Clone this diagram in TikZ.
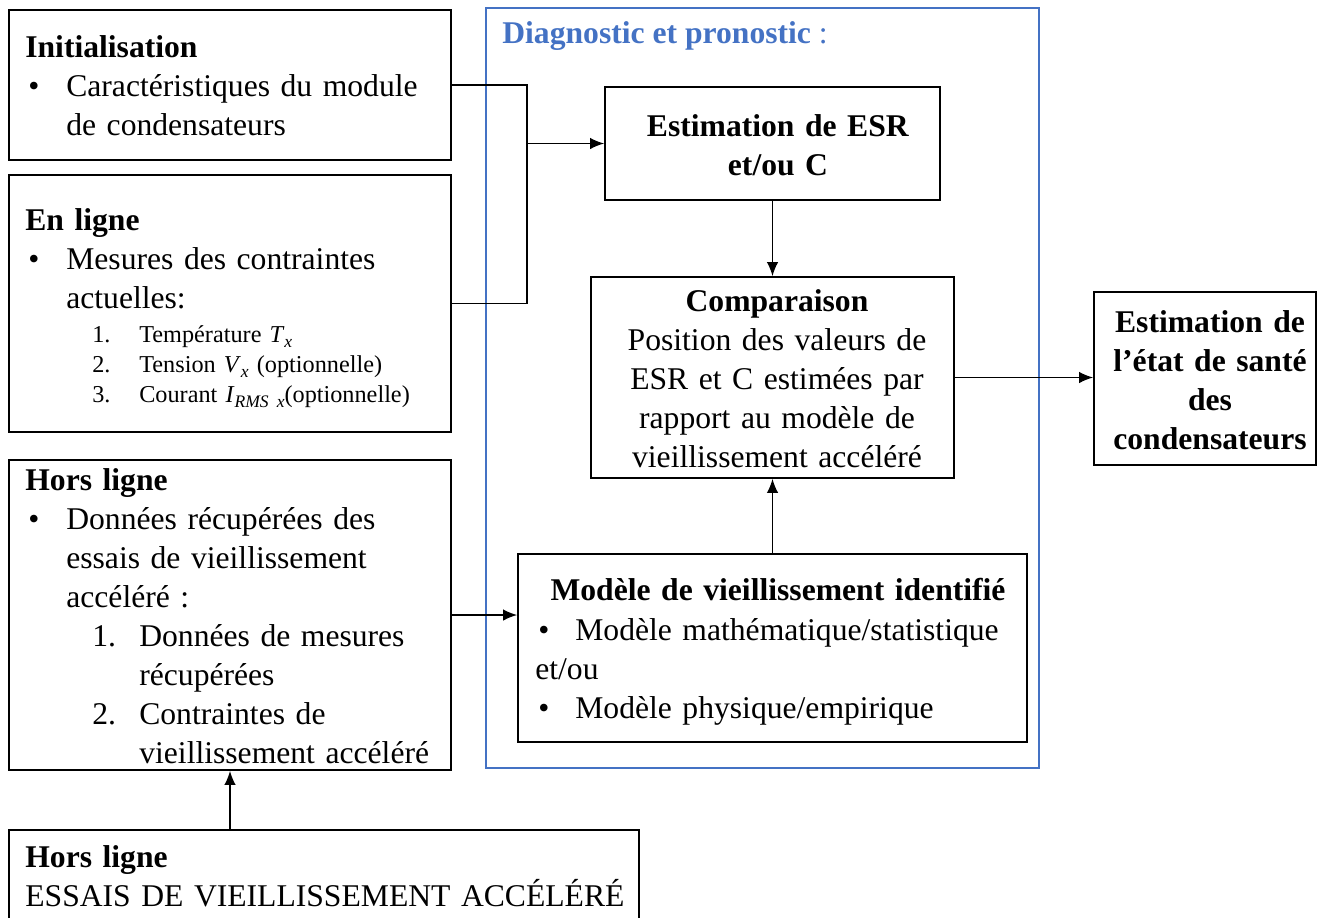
\documentclass[tikz,border=0pt]{standalone}
\usepackage{fontspec}
\setmainfont{Liberation Serif}
\usetikzlibrary{arrows.meta,fit}

\definecolor{diagblue}{HTML}{4472C4}
\newcommand{\bodyfont}{\fontsize{18pt}{22.2pt}\selectfont}
\newcommand{\smallfont}{\fontsize{13.8pt}{17.1pt}\selectfont}
\newcommand{\puce}[1][8.2mm]{\makebox[#1][l]{\hspace*{0.6mm}•}}
\newcommand{\numitem}[1]{\makebox[22.8mm][l]{\hspace*{13.4mm}#1}}
\newcommand{\varsub}[2]{\textit{#1}\raisebox{-0.5ex}{\fontsize{10pt}{10pt}\selectfont\textit{#2}}}

\begin{document}
\begin{tikzpicture}[x=0.02cm,y=-0.02cm,
  box/.style={draw,line width=0.9pt,inner sep=0pt},
  txt/.style={inner sep=0pt,font=\bodyfont,text width=9cm,align=left,anchor=base west},
  ctxt/.style={inner sep=0pt,font=\bodyfont,align=center,anchor=base},
  arrow/.style={line width=0.9pt,-{Latex[length=8pt,width=6.5pt]}}]
\useasboundingbox (0,0) rectangle (1324,917);

% cadre diagnostic
\node[draw=diagblue,line width=0.7pt,inner sep=0pt,fit={(486,8) (1039,768)}] (diag) {};
\node[anchor=base west,inner sep=0pt,font=\bodyfont,text=diagblue] (diagtitle) at (502,43) {\textbf{Diagnostic et pronostic} :};

% blocs
\node[box,fit={(9,10) (451,160)}] (init) {};
\node[box,fit={(9,175) (451,432)}] (enligne) {};
\node[box,fit={(9,460) (451,770)}] (hors) {};
\node[box,fit={(9,830) (639,930)}] (essais) {};
\node[box,fit={(605,87) (940,200)}] (esr) {};
\node[box,fit={(591,277) (954,478)}] (comp) {};
\node[box,fit={(518,554) (1027,742)}] (modele) {};
\node[box,fit={(1094,292) (1316,465)}] (etat) {};

% textes
\node[txt] (inittxt) at (25,57) {\textbf{Initialisation}\\\puce Caractéristiques du module\\\hspace*{8.2mm}de condensateurs};
\node[txt] (enlignetxt) at (25,230) {\textbf{En ligne}\\\puce Mesures des contraintes\\\hspace*{8.2mm}actuelles:};
\node[txt,font=\smallfont] (mesurestxt) at (25,342) {\numitem{1.}Température \varsub{T}{x}\\\numitem{2.}Tension \varsub{V}{x} (optionnelle)\\\numitem{3.}Courant \varsub{I}{RMS x}(optionnelle)};
\node[txt] (horstxt) at (25,490) {\textbf{Hors ligne}\\\puce Données récupérées des\\\hspace*{8.2mm}essais de vieillissement\\\hspace*{8.2mm}accéléré :\\\numitem{1.}Données de mesures\\\hspace*{22.8mm}récupérées\\\numitem{2.}Contraintes de\\\hspace*{22.8mm}vieillissement accéléré};
\node[txt,text width=13cm] (essaistxt) at (25,867) {\textbf{Hors ligne}\\ESSAIS DE VIEILLISSEMENT ACCÉLÉRÉ};
\node[ctxt,text width=6.7cm] (esrtxt) at (778,136) {\textbf{Estimation de ESR}\\\textbf{et/ou C}};
\node[ctxt,text width=7.2cm] (comptxt) at (777,311) {\textbf{Comparaison}\\Position des valeurs de\\ESR et C estimées par\\rapport au modèle de\\vieillissement accéléré};
\node[ctxt,text width=10cm] (modeletitre) at (778,600) {\textbf{Modèle de vieillissement identifié}};
\node[txt,text width=10cm] (modeletxt) at (535,640) {\puce[8mm]Modèle mathématique/statistique\\et/ou\\\puce[8mm]Modèle physique/empirique};
\node[ctxt,text width=4.4cm] (etattxt) at (1210,332) {\textbf{Estimation de}\\\textbf{l’état de santé}\\\textbf{des}\\\textbf{condensateurs}};

% liaisons
\path (esr.west) ++(-77,0) coordinate (junc);
\draw[line width=0.9pt] (init.east) -| (junc) |- (enligne.east);
\draw[arrow] (junc) -- (esr.west);
\draw[arrow] (esr.south) -- (comp.north);
\draw[arrow] (modele.north) -- (comp.south);
\draw[arrow] (comp.east) -- (etat.west |- comp.east);
\draw[arrow] (hors.east) -- (modele.west |- hors.east);
\draw[arrow] (essais.north -| hors.south) -- (hors.south);
\end{tikzpicture}
\end{document}
